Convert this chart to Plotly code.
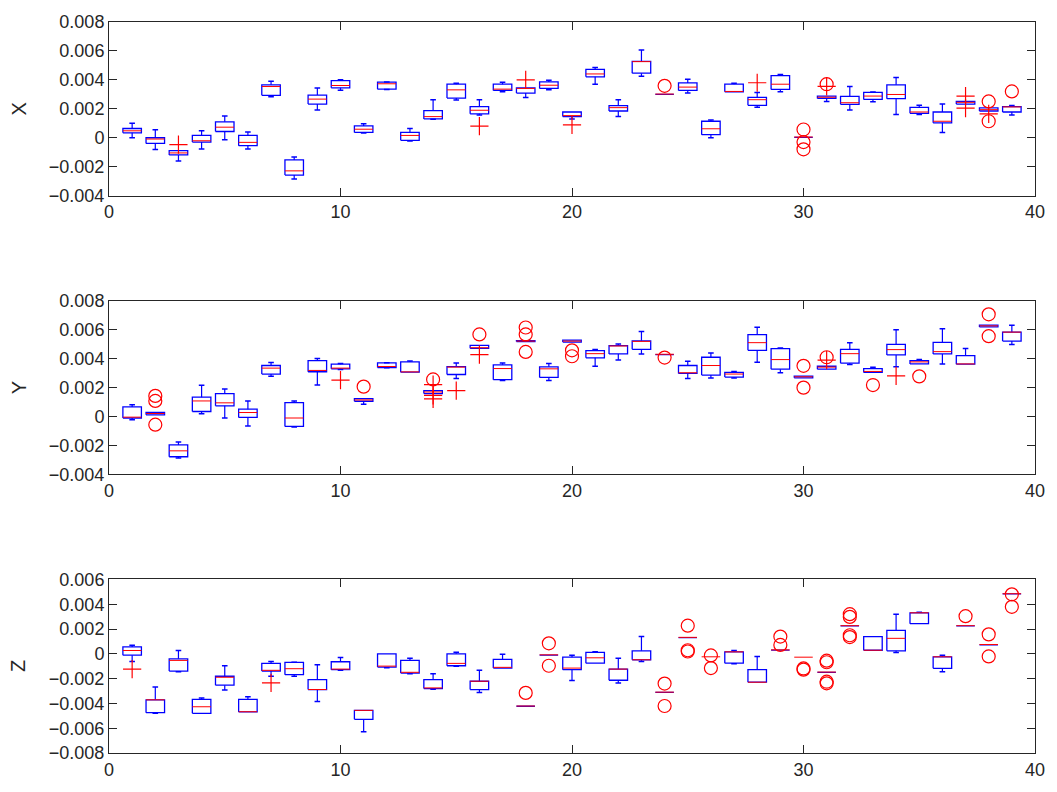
import plotly.graph_objects as go

SCALE = 1e-3
xs = list(range(1, 40))

# ---- Panel X: lower whisker, q1, median, q3, upper whisker (x1e-3)
x_wlo = [0.0, -0.82, -1.6, -0.78, -0.14, -0.78, 2.83, -2.86, 1.92, 3.29, 0.32, 3.33, -0.23, 1.28, 2.61, 1.58, 3.18, 2.79, 3.31, 1.30,
         3.70, 1.46, 4.25, 3.0, 3.09, 0.0, 3.18, 2.10, 3.18, 0.03, 2.5, 1.92, 2.49, 1.60, 1.60, 0.37, 2.33, 1.85, 1.58]
x_q1 = [0.34, -0.39, -1.19, -0.30, 0.43, -0.55, 2.93, -2.58, 2.33, 3.45, 0.37, 3.36, -0.18, 1.30, 2.74, 1.65, 3.27, 3.09, 3.41, 1.46,
        4.21, 1.85, 4.46, 3.0, 3.27, 0.21, 3.18, 2.24, 3.34, 0.03, 2.72, 2.31, 2.65, 2.70, 1.69, 1.03, 2.33, 1.85, 1.78]
x_med = [0.48, -0.09, -1.05, -0.21, 0.73, -0.32, 3.54, -2.29, 2.67, 3.61, 0.59, 3.73, 0.16, 1.46, 3.31, 1.90, 3.36, 3.41, 3.63, 1.53,
         4.41, 2.08, 5.26, 3.02, 3.50, 0.62, 3.20, 2.63, 3.70, 0.05, 2.80, 2.42, 2.88, 2.99, 1.78, 1.14, 2.45, 1.94, 2.13]
x_q3 = [0.64, 0.0, -0.89, 0.16, 1.10, 0.16, 3.66, -1.53, 2.95, 3.95, 0.82, 3.84, 0.37, 1.87, 3.70, 2.15, 3.70, 3.45, 3.86, 1.78,
        4.73, 2.22, 5.28, 3.04, 3.79, 1.14, 3.70, 2.79, 4.30, 0.07, 2.88, 2.86, 3.13, 3.66, 2.10, 1.78, 2.51, 2.06, 2.15]
x_whi = [1.01, 0.55, -0.89, 0.48, 1.51, 0.39, 3.91, -1.33, 3.43, 4.0, 0.96, 3.86, 0.64, 2.63, 3.77, 2.63, 3.84, 3.45, 3.98, 1.78,
         4.85, 2.63, 6.06, 3.04, 4.05, 1.23, 3.77, 3.13, 4.37, 0.07, 2.88, 3.54, 3.17, 4.16, 2.24, 2.33, 2.51, 2.06, 2.22]
x_circ_pos = [24, 30, 30, 30, 31, 38, 38, 39]
x_circ_val = [3.59, 0.57, -0.30, -0.80, 3.70, 2.51, 1.14, 3.20]
x_plus_pos = [3, 16, 18, 20, 28, 31, 37, 37, 38]
x_plus_val = [-0.48, 0.80, 4.0, 0.89, 3.8, 3.55, 2.88, 2.05, 1.65]

# ---- Panel Y
y_wlo = [-0.23, 0.11, -2.88, 0.18, -0.11, -0.66, 2.77, -0.73, 2.17, 3.25, 0.85, 3.36, 3.06, 1.58, 2.63, 4.71, 2.49, 5.18, 2.49, 5.14,
         3.47, 3.91, 4.32, 4.28, 2.63, 2.65, 2.65, 3.75, 3.02, 2.67, 3.27, 3.59, 3.04, 3.43, 3.63, 3.63, 3.61, 6.19, 4.98]
y_q1 = [-0.11, 0.11, -2.79, 0.34, 0.73, -0.07, 2.93, -0.69, 3.09, 3.29, 1.05, 3.38, 3.06, 1.58, 2.90, 4.71, 2.54, 5.18, 2.70, 5.14,
        4.05, 4.32, 4.64, 4.28, 2.97, 2.86, 2.72, 4.57, 3.27, 2.67, 3.27, 3.68, 3.04, 4.25, 3.63, 4.32, 3.61, 6.19, 5.21]
y_med = [-0.05, 0.20, -2.38, 1.07, 0.94, 0.27, 3.34, -0.11, 3.18, 3.34, 1.14, 3.45, 3.08, 1.69, 3.41, 4.75, 3.31, 5.21, 3.29, 5.21,
         4.34, 4.87, 5.19, 4.30, 3.02, 3.52, 2.93, 5.10, 3.93, 2.74, 3.41, 4.34, 3.11, 4.62, 3.77, 4.48, 3.63, 6.26, 5.83]
y_q3 = [0.66, 0.27, -1.97, 1.33, 1.58, 0.50, 3.52, 0.96, 3.86, 3.61, 1.23, 3.70, 3.77, 1.78, 3.45, 4.91, 3.57, 5.24, 3.43, 5.28,
        4.55, 4.89, 5.23, 4.32, 3.52, 4.09, 3.04, 5.65, 4.69, 2.78, 3.47, 4.64, 3.31, 4.98, 3.86, 5.12, 4.21, 6.31, 5.83]
y_whi = [0.80, 0.27, -1.76, 2.15, 1.90, 1.07, 3.73, 1.07, 4.0, 3.66, 1.23, 3.72, 3.84, 1.78, 3.70, 4.91, 3.70, 5.24, 3.66, 5.28,
         4.62, 5.0, 5.87, 4.32, 3.82, 4.39, 3.11, 6.17, 4.73, 2.78, 3.47, 5.10, 3.40, 5.99, 3.93, 6.06, 4.69, 6.31, 6.31]
y_circ_pos = [2, 2, 2, 11, 14, 16, 18, 18, 18, 20, 20, 24, 30, 30, 31, 33, 35, 38, 38]
y_circ_val = [1.42, 1.07, -0.57, 2.06, 2.56, 5.67, 6.15, 5.67, 4.46, 4.57, 4.16, 4.07, 3.50, 1.99, 4.09, 2.17, 2.77, 7.06, 5.55]
y_plus_pos = [10, 14, 14, 14, 15, 16, 31, 34]
y_plus_val = [2.51, 2.2, 1.45, 1.22, 1.78, 4.27, 3.89, 2.81]

# ---- Panel Z  (None = no box drawn, only the median)
N = None
z_wlo = [-0.61, -4.8, -1.44, -4.8, -2.91, -4.69, -1.81, -1.81, -3.84, -1.33, -6.29, -1.12, -1.6, -2.85, -1.01, -3.12, -1.15, -4.23, -0.1, -2.16,
         -0.75, -2.35, -0.61, -3.11, 1.31, N, -0.8, -2.29, 0.30, N, -1.49, 2.25, 0.29, 0.11, 2.43, -1.44, 2.25, 0.73, 4.83]
z_q1 = [-0.11, -4.75, -1.39, -4.8, -2.53, -4.69, -1.39, -1.68, -2.88, -1.28, -5.28, -1.07, -1.55, -2.8, -0.96, -2.88, -1.15, -4.23, -0.1, -1.28,
        -0.75, -2.13, -0.48, -3.11, 1.31, N, -0.75, -2.29, 0.30, N, -1.49, 2.25, 0.29, 0.24, 2.43, -1.17, 2.25, 0.73, 4.83]
z_med = [0.27, -3.71, -0.53, -4.27, -1.89, -4.67, -1.33, -1.20, -2.88, -1.23, -4.56, -0.99, -1.49, -2.75, -0.77, -2.21, -1.09, -4.21, -0.08, -1.15,
         -0.32, -1.23, -0.48, -3.09, 1.33, -0.24, 0.16, -2.29, 0.32, -0.27, -1.47, 2.27, 0.29, 1.25, 3.31, -0.24, 2.27, 0.75, 4.85]
z_q3 = [0.56, -3.71, -0.40, -3.68, -1.81, -3.68, -0.77, -0.69, -2.08, -0.64, -4.56, 0.0, -0.53, -2.08, 0.0, -2.21, -0.45, -4.19, -0.06, -0.27,
        0.11, -1.23, 0.24, -3.07, 1.35, N, 0.16, -1.28, 0.34, N, -1.45, 2.29, 1.39, 1.89, 3.31, -0.24, 2.29, 0.77, 4.87]
z_whi = [0.69, -2.67, 0.27, -3.57, -0.96, -3.47, -0.61, -0.67, -0.88, -0.29, -4.56, 0.0, -0.35, -1.6, 0.13, -1.33, -0.03, -4.19, -0.06, -0.11,
         0.16, -0.35, 1.39, -3.07, 1.35, N, 0.27, -0.21, 0.34, N, -1.45, 2.29, 1.39, 3.2, 3.36, -0.11, 2.29, 0.77, 4.87]
z_circ_pos = [18, 19, 19, 24, 24, 25, 25, 25, 26, 26, 29, 29, 30, 30, 31, 31, 31, 31, 32, 32, 32, 32, 37, 38, 38, 39, 39]
z_circ_val = [-3.15, 0.85, -0.96, -2.4, -4.21, 2.27, 0.29, 0.19, -0.13, -1.15, 1.39, 0.72, -1.18, -1.28, -0.55, -0.68, -2.25, -2.38,
              3.2, 2.98, 1.5, 1.35, 3.04, 1.57, -0.21, 4.8, 3.79]
z_plus_pos = [1, 7]
z_plus_val = [-1.23, -2.35]

BLUE = "#0000FF"
RED = "#FF0000"
HW = 0.4  # half box width in x units
FRAME = "#262626"

panels = [
    ("X", x_wlo, x_q1, x_med, x_q3, x_whi, x_circ_pos, x_circ_val, x_plus_pos, x_plus_val, [-0.004, 0.008], [0.7625, 1.0]),
    ("Y", y_wlo, y_q1, y_med, y_q3, y_whi, y_circ_pos, y_circ_val, y_plus_pos, y_plus_val, [-0.004, 0.008], [0.3813, 0.6187]),
    ("Z", z_wlo, z_q1, z_med, z_q3, z_whi, z_circ_pos, z_circ_val, z_plus_pos, z_plus_val, [-0.008, 0.006], [0.0, 0.2374]),
]


def s(v):
    return None if v is None else v * SCALE


fig = go.Figure()
annotations = []
for k, (name, wlo, q1, med, q3, whi, cpos, cval, ppos, pval, yr, dom) in enumerate(panels):
    xa = "x" if k == 0 else f"x{k+1}"
    ya = "y" if k == 0 else f"y{k+1}"
    bx, by, wx, wy, ex, ey, mx, my = [], [], [], [], [], [], [], []
    for i, x in enumerate(xs):
        if q1[i] is not None:
            bx += [x - HW, x + HW, x + HW, x - HW, x - HW, None]
            by += [s(q1[i]), s(q1[i]), s(q3[i]), s(q3[i]), s(q1[i]), None]
            if whi[i] > q3[i]:
                wx += [x, x, None]
                wy += [s(q3[i]), s(whi[i]), None]
                ex.append(x); ey.append(s(whi[i]))
            if wlo[i] < q1[i]:
                wx += [x, x, None]
                wy += [s(q1[i]), s(wlo[i]), None]
                ex.append(x); ey.append(s(wlo[i]))
        mx += [x - HW, x + HW, None]
        my += [s(med[i]), s(med[i]), None]
    common = dict(xaxis=xa, yaxis=ya, showlegend=False, hoverinfo="skip")
    fig.add_trace(go.Scatter(x=wx, y=wy, mode="lines", line=dict(color=BLUE, width=1.2), **common))
    fig.add_trace(go.Scatter(x=ex, y=ey, mode="markers",
                             marker=dict(symbol="line-ew", size=4, line=dict(color=BLUE, width=1.5)), **common))
    fig.add_trace(go.Scatter(x=bx, y=by, mode="lines", line=dict(color=BLUE, width=1.3), **common))
    fig.add_trace(go.Scatter(x=mx, y=my, mode="lines", line=dict(color=RED, width=1), **common))
    fig.add_trace(go.Scatter(x=cpos, y=[v * SCALE for v in cval], mode="markers",
                             marker=dict(symbol="circle-open", size=13, color=RED, line=dict(width=1.2)), **common))
    fig.add_trace(go.Scatter(x=ppos, y=[v * SCALE for v in pval], mode="markers",
                             marker=dict(symbol="cross-thin-open", size=13, color=RED, line=dict(width=1.2, color=RED)), **common))

    axis_common = dict(showline=True, linecolor=FRAME, linewidth=1, mirror="ticks", ticks="inside",
                       ticklen=8, tickcolor=FRAME, showgrid=False, zeroline=False,
                       tickfont=dict(family="Liberation Sans", size=18, color=FRAME))
    xkey = "xaxis" if k == 0 else f"xaxis{k+1}"
    ykey = "yaxis" if k == 0 else f"yaxis{k+1}"
    fig.update_layout(**{
        xkey: dict(range=[0, 40], tickvals=[0, 10, 20, 30, 40], anchor=ya, domain=[0, 1], **axis_common),
        ykey: dict(range=yr, dtick=0.002, anchor=xa, domain=dom, **axis_common),
    })
    annotations.append(dict(text=name, xref="paper", yref="paper", x=-0.0975, y=(dom[0] + dom[1]) / 2,
                            xanchor="center", yanchor="middle", textangle=-90, showarrow=False,
                            font=dict(family="Liberation Sans", size=20, color=FRAME)))

fig.update_layout(width=1057, height=792, margin=dict(l=109, r=15, t=19, b=36),
                  paper_bgcolor="white", plot_bgcolor="white", annotations=annotations)
fig.write_html("out.html")
